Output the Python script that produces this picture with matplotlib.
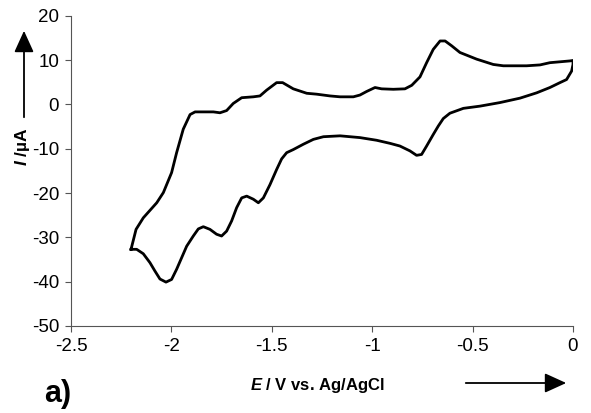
import matplotlib
matplotlib.use("Agg")
import matplotlib.pyplot as plt

plt.rcParams['font.family'] = ['Liberation Sans', 'DejaVu Sans']
plt.rcParams['mathtext.fontset'] = 'custom'
plt.rcParams['mathtext.it'] = 'Liberation Sans:italic:bold'
plt.rcParams['mathtext.rm'] = 'Liberation Sans:bold'

# cyclic voltammogram (E in V, I in uA)
# forward (anodic) sweep from -2.2 V up to 0 V
E_fwd = [-2.201, -2.176, -2.140, -2.073, -2.040, -1.999, -1.974, -1.941, -1.907,
         -1.882, -1.791, -1.758, -1.725, -1.692, -1.650, -1.592, -1.559, -1.526,
         -1.476, -1.446, -1.393, -1.326, -1.277, -1.210, -1.160, -1.094, -1.061,
         -1.028, -0.986, -0.953, -0.895, -0.837, -0.803, -0.762, -0.729, -0.696,
         -0.662, -0.637, -0.604, -0.563, -0.480, -0.397, -0.347, -0.231, -0.164,
         -0.115, -0.065, -0.015, 0.0]
I_fwd = [-32.7, -28.2, -25.6, -22.2, -19.9, -15.4, -10.9, -5.6, -2.3,
         -1.7, -1.7, -1.9, -1.4, 0.2, 1.5, 1.7, 1.9, 3.2,
         4.9, 4.9, 3.5, 2.5, 2.3, 1.9, 1.7, 1.7, 2.1,
         2.9, 3.8, 3.5, 3.4, 3.5, 4.3, 6.2, 9.4, 12.4,
         14.3, 14.3, 13.2, 11.7, 10.2, 9.0, 8.7, 8.7, 8.9,
         9.4, 9.6, 9.8, 9.9]
# reverse (cathodic) sweep back to -2.2 V
E_rev = [0.0, -0.007, -0.032, -0.065, -0.115, -0.181, -0.264, -0.364, -0.463,
         -0.546, -0.613, -0.646, -0.671, -0.696, -0.729, -0.754, -0.779, -0.812,
         -0.862, -0.911, -0.978, -1.061, -1.160, -1.243, -1.293, -1.343, -1.393,
         -1.426, -1.451, -1.476, -1.509, -1.542, -1.567, -1.592, -1.625, -1.650,
         -1.675, -1.700, -1.725, -1.750, -1.775, -1.808, -1.841, -1.866, -1.891,
         -1.924, -1.949, -1.974, -1.999, -2.027, -2.057, -2.082, -2.107, -2.140,
         -2.173, -2.201]
I_rev = [9.0, 7.5, 5.6, 4.9, 3.8, 2.6, 1.4, 0.4, -0.4,
         -0.9, -2.0, -3.2, -4.9, -6.8, -9.4, -11.3, -11.5, -10.5,
         -9.4, -8.8, -8.1, -7.5, -7.1, -7.3, -7.9, -9.0, -10.2,
         -10.9, -12.3, -14.7, -18.1, -21.1, -22.2, -21.4, -20.7, -21.1,
         -23.3, -26.3, -28.6, -29.7, -29.3, -28.2, -27.6, -28.1, -29.7,
         -32.0, -34.6, -37.2, -39.5, -40.1, -39.4, -37.6, -35.7, -33.7,
         -32.7, -32.7]

x_ticks = [-2.5, -2, -1.5, -1, -0.5, 0]
x_labels = ["-2.5", "-2", "-1.5", "-1", "-0.5", "0"]
y_ticks = [20, 10, 0, -10, -20, -30, -40, -50]

W, H = 591, 413
fig = plt.figure(figsize=(W / 100, H / 100), dpi=100)
ax = fig.add_axes([71 / W, 1 - 326 / H, 502 / W, 310.3 / H])

ax.plot(E_fwd + E_rev, I_fwd + I_rev, color='black', lw=2.0, solid_joinstyle='round')

ax.set_xlim(-2.5, 0)
ax.set_ylim(-50, 20)
ax.set_xticks(x_ticks)
ax.set_xticklabels(x_labels)
ax.set_yticks(y_ticks)
ax.set_yticklabels([str(v) for v in y_ticks])
ax.spines['top'].set_visible(False)
ax.spines['right'].set_visible(False)
for s in ['left', 'bottom']:
    ax.spines[s].set_linewidth(0.8)
    ax.spines[s].set_color('#555555')
ax.tick_params(direction='out', length=4.5, width=0.8, color='#555555',
               labelsize=13.5, pad=4)

# axis labels
fig.text(250 / W, 1 - 390 / H, r'$E$ / V vs. Ag/AgCl', fontsize=12,
         fontweight='bold', ha='left', va='baseline')
fig.text(22 / W, 1 - 147 / H, r'$I$ /µA', fontsize=12.5, fontweight='bold',
         rotation=90, ha='center', va='center')
fig.text(44 / W, 1 - 402 / H, 'a)', fontsize=22, fontweight='bold',
         ha='left', va='baseline')

# direction arrows
arrow = dict(arrowstyle='-|>,head_length=1.1,head_width=0.5', color='black', lw=1.3)
fig.add_artist(matplotlib.patches.FancyArrowPatch(
    (463 / W, 1 - 383 / H), (569 / W, 1 - 383 / H),
    transform=fig.transFigure, mutation_scale=12, **arrow))
fig.add_artist(matplotlib.patches.FancyArrowPatch(
    (24 / W, 1 - 120 / H), (24 / W, 1 - 28 / H),
    transform=fig.transFigure, mutation_scale=12, **arrow))

fig.savefig("out.png", dpi=100)
